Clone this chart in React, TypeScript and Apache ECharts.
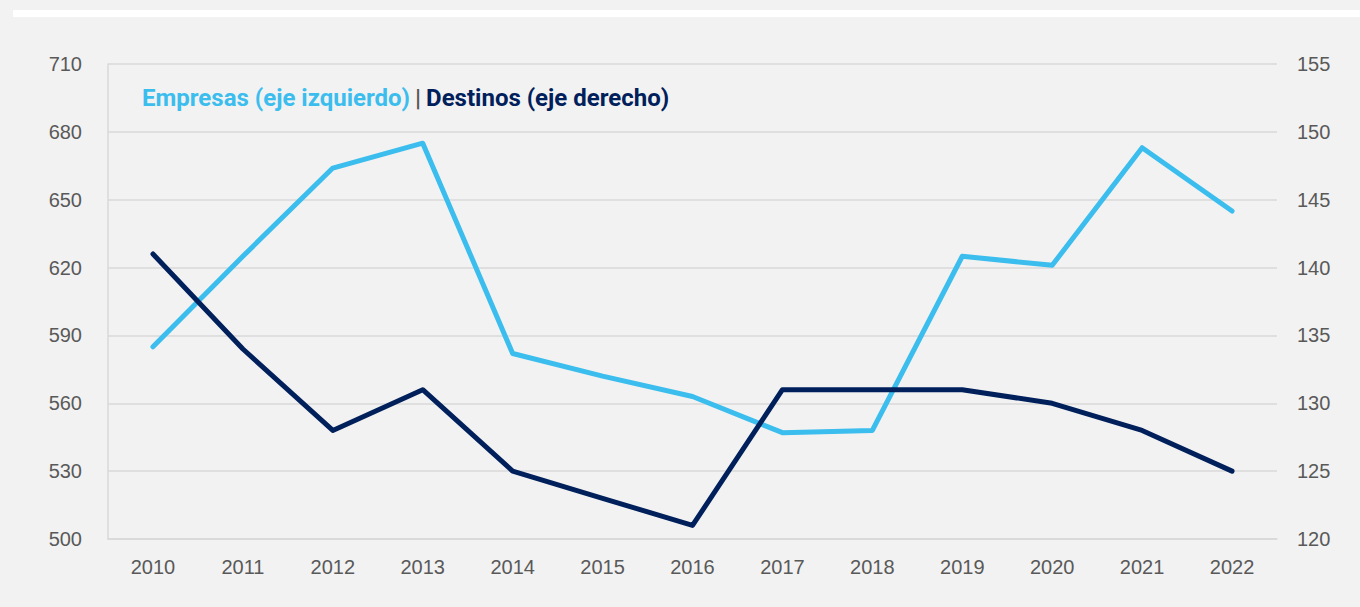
import React, { useEffect, useRef } from "react";
import * as echarts from "echarts";

const years = ["2010", "2011", "2012", "2013", "2014", "2015", "2016", "2017", "2018", "2019", "2020", "2021", "2022"];
const empresas = [585, 625, 664, 675, 582, 572, 563, 547, 548, 625, 621, 673, 645];
const destinos = [141, 134, 128, 131, 125, 123, 121, 131, 131, 131, 130, 128, 125];

const leftMin = 500, leftMax = 710, leftStep = 30;
const rightMin = 120, rightMax = 155, rightStep = 5;

const lightBlue = "#3bbdee";
const navy = "#00205c";

export default function App() {
  const ref = useRef<HTMLDivElement>(null);
  useEffect(() => {
    if (!ref.current) return;
    const chart = echarts.init(ref.current, null, { renderer: "svg" });
    const labelStyle = { color: "#595959", fontSize: 20, fontFamily: "Liberation Sans, Arial, sans-serif" };
    const titleFont = { fontSize: 24, fontWeight: "bold", fontFamily: "Roboto, sans-serif", lineHeight: 26 };
    chart.setOption({
      animation: false,
      backgroundColor: "#f2f2f2",
      graphic: [
        { type: "rect", left: 13, top: 10, shape: { width: 1347, height: 7 }, style: { fill: "#ffffff" }, z: 0 },
      ],
      title: {
        text: "{a|Empresas (eje izquierdo)} {b||} {c|Destinos (eje derecho)}",
        left: 142,
        top: 85,
        padding: 0,
        textStyle: {
          rich: {
            a: { color: lightBlue, ...titleFont },
            b: { color: "#595959", ...titleFont },
            c: { color: navy, ...titleFont },
          },
        },
      },
      grid: { left: 108, right: 83, top: 64, bottom: 68, containLabel: false },
      xAxis: {
        type: "category",
        data: years,
        boundaryGap: true,
        axisLine: { show: true, lineStyle: { color: "#d9d9d9", width: 1.5 } },
        axisTick: { show: false },
        axisLabel: { ...labelStyle, margin: 18 },
      },
      yAxis: [
        {
          type: "value",
          min: leftMin,
          max: leftMax,
          interval: leftStep,
          axisLine: { show: true, lineStyle: { color: "#d9d9d9", width: 1.5 } },
          axisTick: { show: false },
          axisLabel: { ...labelStyle, margin: 26 },
          splitLine: { show: true, lineStyle: { color: "#d9d9d9", width: 1.5 } },
        },
        {
          type: "value",
          min: rightMin,
          max: rightMax,
          interval: rightStep,
          axisLine: { show: false },
          axisTick: { show: false },
          axisLabel: { ...labelStyle, margin: 20 },
          splitLine: { show: false },
        },
      ],
      series: [
        {
          name: "Empresas",
          type: "line",
          yAxisIndex: 0,
          data: empresas,
          showSymbol: false,
          lineStyle: { color: lightBlue, width: 5, cap: "round", join: "round" },
          itemStyle: { color: lightBlue },
        },
        {
          name: "Destinos",
          type: "line",
          yAxisIndex: 1,
          data: destinos,
          showSymbol: false,
          lineStyle: { color: navy, width: 5, cap: "round", join: "round" },
          itemStyle: { color: navy },
        },
      ],
    });
    return () => chart.dispose();
  }, []);
  return (
    <div style={{ position: "fixed", left: 0, top: 0, width: 1360, height: 607, background: "#f2f2f2" }}>
      <div ref={ref} style={{ width: 1360, height: 607 }} />
    </div>
  );
}
